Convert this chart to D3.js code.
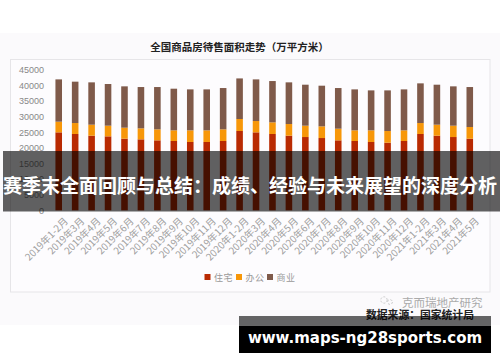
<!DOCTYPE html>
<html>
<head>
<meta charset="utf-8">
<script src="https://cdn.jsdelivr.net/npm/d3@7"></script>
<style>
  html, body { margin: 0; padding: 0; background: #fff; }
  svg { display: block; }
  text { font-family: "Noto Sans CJK SC", "Liberation Sans", sans-serif; }
</style>
</head>
<body>
<div id="plot"></div>
<script>
const months = ['2019年1-2月','2019年3月','2019年4月','2019年5月','2019年6月','2019年7月','2019年8月','2019年9月','2019年10月','2019年11月','2019年12月',
  '2020年1-2月','2020年3月','2020年4月','2020年5月','2020年6月','2020年7月','2020年8月','2020年9月','2020年10月','2020年11月','2020年12月',
  '2021年1-2月','2021年3月','2021年4月','2021年5月']
const residential = [24950,24420,23880,23670,22920,22710,22390,22180,21860,21860,22180,25380,24950,24420,23880,23450,23130,22390,22180,21860,21640,22180,24420,23880,23450,22920]
const office = [3410,3510,3520,3410,3520,3520,3520,3410,3730,3730,3730,3840,3620,3730,3730,3630,3740,3730,3410,3730,3730,3410,3510,3520,3630,3730]
const commercial = [13540,13240,13550,13340,13230,13220,13540,13330,13110,13110,13220,12990,13330,13220,13340,13120,13010,13010,13110,12790,13010,13110,12700,12800,12590,12800]
const yTicks = [0,5000,10000,15000,20000,25000,30000,35000,40000,45000]
const seriesNames = ['住宅','办公','商业']
const seriesColors = ['#b92a02','#f79709','#7f5a4a']

const width = 500, height = 362
const svg = d3.select('#plot').append('svg').attr('width', width).attr('height', height)

// page tint and chart panel
svg.append('rect').attr('x', 0).attr('y', 33).attr('width', width).attr('height', 292).attr('fill', '#fbfafc')
svg.append('rect').attr('x', 10.5).attr('y', 59.5).attr('width', 479.5).attr('height', 232.5)
  .attr('fill', '#fdfcfe').attr('stroke', '#e6e5e8')

svg.append('text').attr('x', 239.5).attr('y', 50.5).attr('text-anchor', 'middle')
  .attr('font-size', 10.5).attr('font-weight', 700).attr('fill', '#222')
  .text('全国商品房待售面积走势（万平方米）')

const x = d3.scaleBand().domain(months).range([50.5, 478]).paddingInner(0.6).paddingOuter(0.3)
const y = d3.scaleLinear().domain([0, 45000]).range([210.3, 69.7])

const rows = months.map((m, i) => ({month: m, res: residential[i], off: office[i], com: commercial[i]}))
const stacked = d3.stack().keys(['res','off','com'])(rows)

svg.append('g').selectAll('g').data(stacked).join('g')
  .attr('fill', (d, i) => seriesColors[i])
  .selectAll('rect').data(d => d).join('rect')
  .attr('x', d => x(d.data.month))
  .attr('width', x.bandwidth())
  .attr('y', d => y(d[1]))
  .attr('height', d => y(d[0]) - y(d[1]))

let yAxis = svg.append('g').attr('transform', 'translate(48,0)')
  .call(d3.axisLeft(y).tickValues(yTicks).tickSize(0).tickPadding(4).tickFormat(d3.format('d')))
yAxis.select('.domain').remove()
yAxis.selectAll('text').attr('font-size', 9).attr('fill', '#888')
  .style('font-family', '"Liberation Sans", sans-serif')

let xAxis = svg.append('g').attr('transform', 'translate(0,214)')
  .call(d3.axisBottom(x).tickSize(0).tickPadding(0))
xAxis.select('.domain').remove()
xAxis.selectAll('text').attr('font-size', 9.8).attr('fill', '#a0a0a0')
  .attr('text-anchor', 'end')
  .attr('transform', 'translate(5,3) rotate(-45)')

// legend
const legendX = [204.5, 236, 267]
seriesNames.forEach((name, i) => {
  svg.append('rect').attr('x', legendX[i]).attr('y', 274).attr('width', 6).attr('height', 6).attr('fill', seriesColors[i])
  svg.append('text').attr('x', legendX[i] + 9.5).attr('y', 280.5).attr('font-size', 9).attr('letter-spacing', 0.5).attr('fill', '#999').text(name)
})

// watermark icon, two small rings
svg.append('circle').attr('cx', 384).attr('cy', 300).attr('r', 3.2).attr('fill', 'none').attr('stroke', '#ccc').attr('stroke-dasharray', '2 1.5')
svg.append('circle').attr('cx', 390).attr('cy', 302).attr('r', 2.4).attr('fill', 'none').attr('stroke', '#ccc').attr('stroke-dasharray', '2 1.5')
svg.append('text').attr('x', 402).attr('y', 307).attr('font-size', 11.5).attr('fill', '#aaa').text('克而瑞地产研究')
svg.append('text').attr('x', 366).attr('y', 318.5).attr('font-size', 10.8).attr('font-weight', 700).attr('fill', '#222').text('数据来源：国家统计局')

// site overlay banners
svg.append('rect').attr('x', 3).attr('y', 151).attr('width', 497).attr('height', 60.5).attr('fill', '#000').attr('opacity', 0.62)
svg.append('text').attr('x', 250).attr('y', 193).attr('text-anchor', 'middle')
  .attr('font-size', 19).attr('font-weight', 700).attr('fill', '#fff')
  .text('赛季末全面回顾与总结：成绩、经验与未来展望的深度分析')
svg.append('rect').attr('x', 239).attr('y', 316).attr('width', 252).attr('height', 10).attr('fill', '#000').attr('opacity', 0.6)
svg.append('rect').attr('x', 239).attr('y', 326).attr('width', 252).attr('height', 27).attr('fill', '#000')
svg.append('text').attr('x', 365).attr('y', 343).attr('text-anchor', 'middle')
  .attr('font-size', 15).attr('font-weight', 700).attr('fill', '#fff')
  .style('font-family', '"DejaVu Sans", sans-serif')
  .text('www.maps-ng28sports.com')
</script>
</body>
</html>
